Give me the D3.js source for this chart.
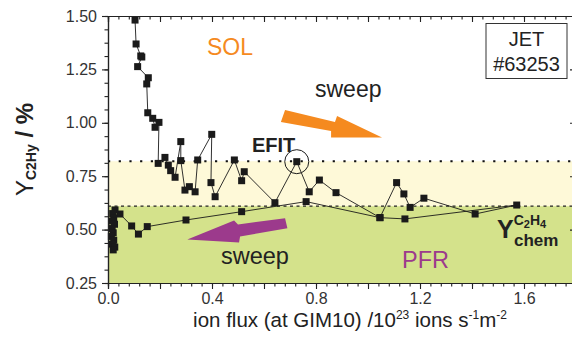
<!DOCTYPE html>
<html>
<head>
<meta charset="utf-8">
<script src="https://cdn.jsdelivr.net/npm/d3@7"></script>
<style>
  html, body { margin: 0; padding: 0; background: #fff; overflow: hidden; }
  svg { display: block; font-family: "Liberation Sans", Arial, sans-serif; }
</style>
</head>
<body>
<svg width="572" height="345" viewBox="0 0 572 345"></svg>
<script>
"use strict";

// measured trace in time order: ion flux (1e23 ions/s/m2) and C2Hy yield (%)
const fluxValues = [
  0.104, 0.108, 0.126, 0.130, 0.114, 0.155, 0.149, 0.153, 0.172, 0.181,
  0.196, 0.193, 0.219, 0.232, 0.241, 0.258, 0.280, 0.280, 0.296, 0.313,
  0.335, 0.345, 0.399, 0.396, 0.412, 0.486, 0.514, 0.524, 0.642, 0.726,
  0.774, 0.813, 0.877, 1.046, 1.110, 1.138, 1.162, 1.215, 1.412, 1.572,
  1.142, 1.046, 0.762, 0.514, 0.300, 0.151, 0.117, 0.091, 0.046, 0.027,
  0.018, 0.022, 0.014, 0.025, 0.016, 0.020, 0.013, 0.022, 0.017, 0.026,
  0.020
];
const yieldValues = [
  1.481, 1.369, 1.313, 1.308, 1.263, 1.211, 1.182, 1.047, 1.021, 0.979,
  1.002, 0.810, 0.838, 0.802, 0.776, 0.745, 0.912, 0.823, 0.685, 0.701,
  0.677, 0.826, 0.946, 0.720, 0.654, 0.826, 0.729, 0.771, 0.626, 0.818,
  0.677, 0.732, 0.673, 0.556, 0.720, 0.667, 0.604, 0.647, 0.573, 0.615,
  0.550, 0.556, 0.631, 0.584, 0.545, 0.514, 0.479, 0.517, 0.573, 0.592,
  0.575, 0.555, 0.540, 0.525, 0.505, 0.485, 0.468, 0.450, 0.432, 0.418,
  0.405
];
const efitIndex = 29;

const xTickLabels = [0.0, 0.4, 0.8, 1.2, 1.6];
const yTickLabels = [0.25, 0.5, 0.75, 1.0, 1.25, 1.5];
const pfrBand = [0.25, 0.61];
const transitionBand = [0.61, 0.82];

// sweep arrows (flux, yield)
const arrowOutFlux = [0.681, 0.873, 0.881, 1.054, 0.858, 0.858, 0.665];
const arrowOutYield = [1.060, 1.004, 1.032, 0.931, 0.931, 0.962, 1.004];
const arrowBackFlux = [0.305, 0.485, 0.500, 0.681, 0.690, 0.508, 0.504];
const arrowBackYield = [0.454, 0.543, 0.524, 0.553, 0.506, 0.468, 0.440];

const svg = d3.select("svg");
const margin = { top: 16, left: 108 };
const innerWidth = 468;
const innerHeight = 267;

const x = d3.scaleLinear().domain([0, 1.8]).range([0, innerWidth]);
const y = d3.scaleLinear().domain([0.25, 1.5]).range([innerHeight, 0]);

const g = svg.append("g")
  .attr("transform", `translate(${margin.left},${margin.top})`);

// shaded regions
g.append("rect")
  .attr("x", 0).attr("width", innerWidth)
  .attr("y", y(pfrBand[1])).attr("height", y(pfrBand[0]) - y(pfrBand[1]))
  .attr("fill", "#d4e28b");
g.append("rect")
  .attr("x", 0).attr("width", innerWidth)
  .attr("y", y(transitionBand[1])).attr("height", y(transitionBand[0]) - y(transitionBand[1]))
  .attr("fill", "#fef9d8");

g.append("line")
  .attr("x1", 0).attr("x2", innerWidth)
  .attr("y1", y(transitionBand[1])).attr("y2", y(transitionBand[1]))
  .attr("stroke", "#111").attr("stroke-width", 2.2)
  .attr("stroke-dasharray", "2.2,8.5");
g.append("line")
  .attr("x1", 0).attr("x2", innerWidth)
  .attr("y1", y(pfrBand[1])).attr("y2", y(pfrBand[1]))
  .attr("stroke", "#222").attr("stroke-width", 1.1)
  .attr("stroke-dasharray", "3,3.5");

// arrows
const arrowPath = (fx, fy) => d3.line()(fx.map((v, i) => [x(v), y(fy[i])])) + "Z";
g.append("path").attr("d", arrowPath(arrowOutFlux, arrowOutYield)).attr("fill", "#f58a1f");
g.append("path").attr("d", arrowPath(arrowBackFlux, arrowBackYield)).attr("fill", "#9c3a8c");

// data trace
const points = fluxValues.map((f, i) => [f, yieldValues[i]]);
g.append("path")
  .datum(points)
  .attr("fill", "none")
  .attr("stroke", "#1a1a1a")
  .attr("stroke-width", 0.9)
  .attr("d", d3.line().x(d => x(d[0])).y(d => y(d[1])));

const s = 7;
g.selectAll("rect.pt")
  .data(points)
  .enter()
  .append("rect")
  .attr("class", "pt")
  .attr("x", d => x(d[0]) - s / 2)
  .attr("y", d => y(d[1]) - s / 2)
  .attr("width", s)
  .attr("height", s)
  .attr("fill", "#1a1a1a");

g.append("circle")
  .attr("cx", x(fluxValues[efitIndex]))
  .attr("cy", y(yieldValues[efitIndex]))
  .attr("r", 12)
  .attr("fill", "none")
  .attr("stroke", "#1a1a1a")
  .attr("stroke-width", 1);

// axes
const xMajor = d3.range(0, 1.81, 0.2);
const xMinor = d3.range(0, 1.81, 0.04);
const yMajor = yTickLabels;
const yMinor = d3.range(0.25, 1.501, 0.0625);
const xFmt = d => (xTickLabels.some(v => Math.abs(v - d) < 1e-6) ? d3.format(".1f")(d) : "");

const styleAxis = sel => {
  sel.attr("font-family", null).attr("font-size", null);
  sel.selectAll(".domain").attr("stroke", "#222").attr("stroke-width", 1.2);
  sel.selectAll(".tick line").attr("stroke", "#222").attr("stroke-width", 1.1);
  sel.selectAll("text").attr("font-size", 16).attr("fill", "#333");
  // drop the empty labels of unlabelled ticks
  sel.selectAll("text").filter(function() { return this.textContent === ""; }).remove();
};

g.append("g").attr("transform", `translate(0,${innerHeight})`)
  .call(d3.axisBottom(x).tickValues(xMinor).tickSize(3.5).tickFormat(""))
  .call(styleAxis);
g.append("g").attr("transform", `translate(0,${innerHeight})`)
  .call(d3.axisBottom(x).tickValues(xMajor).tickSize(6).tickPadding(4).tickFormat(xFmt))
  .call(styleAxis);

g.append("g")
  .call(d3.axisTop(x).tickValues(xMinor).tickSize(-3.5).tickFormat(""))
  .call(styleAxis);
g.append("g")
  .call(d3.axisTop(x).tickValues(xMajor).tickSize(-6).tickFormat(""))
  .call(styleAxis);

g.append("g")
  .call(d3.axisLeft(y).tickValues(yMinor).tickSize(3.5).tickFormat(""))
  .call(styleAxis);
g.append("g")
  .call(d3.axisLeft(y).tickValues(yMajor).tickSize(6).tickPadding(5).tickFormat(d3.format(".2f")))
  .call(styleAxis);

g.append("g").attr("transform", `translate(${innerWidth},0)`)
  .call(d3.axisRight(y).tickValues(yMinor).tickSize(-3.5).tickFormat(""))
  .call(styleAxis);
g.append("g").attr("transform", `translate(${innerWidth},0)`)
  .call(d3.axisRight(y).tickValues(yMajor).tickSize(-6).tickFormat(""))
  .call(styleAxis);

// axis titles
const yLabel = svg.append("text")
  .attr("transform", `translate(33,${margin.top + innerHeight / 2}) rotate(-90)`)
  .attr("text-anchor", "middle")
  .attr("fill", "#222");
yLabel.append("tspan").attr("font-size", 24).text("Y");
yLabel.append("tspan").attr("font-size", 14).attr("font-weight", "bold").attr("dy", 3).text("C2Hy");
yLabel.append("tspan").attr("font-size", 24).attr("font-weight", "bold").attr("dy", -3).text(" / %");

const xLabel = svg.append("text")
  .attr("x", 350).attr("y", 327)
  .attr("text-anchor", "middle")
  .attr("font-size", 20.5)
  .attr("fill", "#222");
xLabel.append("tspan").text("ion flux (at GIM10) /10");
xLabel.append("tspan").attr("font-size", 12).attr("dy", -8).text("23");
xLabel.append("tspan").attr("dy", 8).text(" ions s");
xLabel.append("tspan").attr("font-size", 12).attr("dy", -8).text("-1");
xLabel.append("tspan").attr("dy", 8).text("m");
xLabel.append("tspan").attr("font-size", 12).attr("dy", -8).text("-2");

// annotations
svg.append("text").attr("x", 207).attr("y", 55).attr("font-size", 23)
  .attr("fill", "#f58a1f").text("SOL");
svg.append("text").attr("x", 315).attr("y", 97).attr("font-size", 23)
  .attr("fill", "#222").text("sweep");
svg.append("text").attr("x", 221).attr("y", 264).attr("font-size", 23.5)
  .attr("fill", "#222").text("sweep");
svg.append("text").attr("x", 402).attr("y", 268).attr("font-size", 23.5)
  .attr("fill", "#9c3a8c").text("PFR");
svg.append("text").attr("x", 252).attr("y", 152).attr("font-size", 20)
  .attr("font-weight", "bold").attr("fill", "#222").text("EFIT");

const chem = svg.append("text").attr("x", 497).attr("y", 238)
  .attr("font-weight", "bold").attr("fill", "#222");
chem.append("tspan").attr("font-size", 25).text("Y");
chem.append("tspan").attr("font-size", 14).attr("dy", -13).text("C");
chem.append("tspan").attr("font-size", 11).attr("dy", 3).text("2");
chem.append("tspan").attr("font-size", 14).attr("dy", -3).text("H");
chem.append("tspan").attr("font-size", 11).attr("dy", 3).text("4");
chem.append("tspan").attr("x", 514).attr("y", 246).attr("font-size", 17).text("chem");

const box = svg.append("g");
box.append("rect").attr("x", 486).attr("y", 23.5).attr("width", 81).attr("height", 55)
  .attr("fill", "#fff").attr("stroke", "#333").attr("stroke-width", 1);
box.append("text").attr("x", 526.5).attr("y", 46).attr("text-anchor", "middle")
  .attr("font-size", 20).attr("fill", "#222").text("JET");
box.append("text").attr("x", 526.5).attr("y", 71).attr("text-anchor", "middle")
  .attr("font-size", 20).attr("fill", "#222").text("#63253");
</script>
</body>
</html>
